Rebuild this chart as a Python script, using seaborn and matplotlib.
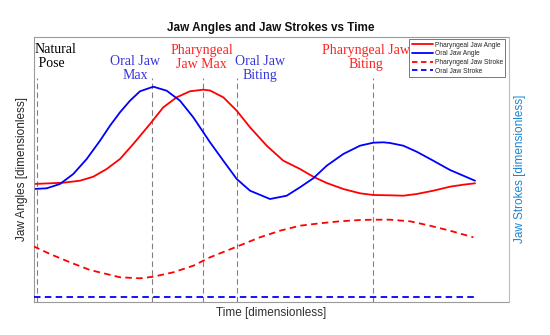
import numpy as np
import pandas as pd
import matplotlib
matplotlib.use("Agg")
import matplotlib.pyplot as plt
import seaborn as sns
from matplotlib.lines import Line2D

sns.set_style("white")
plt.rcParams['font.family'] = ['Liberation Sans', 'DejaVu Sans']

# ---- data (dimensionless) ----
pja_t = [0, 3.74, 6.75, 10.53, 13.54, 16.58, 19.59, 22.60, 26.39, 29.40, 32.43, 35.45,
         38.46, 39.98, 42.99, 46.03, 49.04, 52.82, 56.58, 60.36, 63.37, 66.41, 70.17,
         73.95, 76.96, 80.75, 83.76, 86.79, 90.55, 94.34, 97.35, 100]
pja_v = [44.42, 44.68, 44.91, 45.66, 47.17, 50.08, 53.85, 59.51, 67.06, 73.36, 77.13, 79.40,
         80.00, 79.70, 77.13, 72.08, 65.81, 58.87, 53.21, 50.08, 47.17, 44.79, 42.53,
         40.91, 40.26, 40.15, 40.00, 40.64, 41.89, 43.40, 44.15, 44.68]

oja_t = [0, 2.99, 6.00, 9.01, 12.05, 15.06, 17.33, 19.59, 21.86, 24.12, 27.13, 30.17,
         33.18, 36.19, 39.98, 42.99, 46.03, 49.04, 53.57, 57.35, 60.36, 63.37, 66.41,
         70.17, 73.95, 76.96, 79.23, 80.75, 83.76, 86.79, 90.55, 94.34, 97.35, 100]
oja_v = [42.53, 42.79, 44.42, 48.19, 53.85, 60.75, 66.42, 71.47, 75.85, 79.40, 81.13, 79.62,
         75.85, 69.58, 60.15, 53.21, 46.30, 41.89, 38.75, 40.00, 43.17, 46.57, 51.32,
         55.74, 58.87, 60.00, 60.15, 59.89, 58.87, 56.60, 53.21, 49.70, 47.55, 45.66]

pjs_t = [0, 3.74, 8.27, 12.80, 19.59, 24.12, 27.13, 31.66, 36.19, 39.98, 46.03, 51.30,
         55.83, 60.36, 64.89, 69.42, 73.95, 76.96, 80.75, 85.28, 89.81, 94.34, 99.62]
pjs_v = [20.91, 18.00, 14.87, 11.96, 9.21, 8.83, 9.43, 11.09, 13.58, 16.75, 20.75, 24.30,
         26.79, 28.68, 29.58, 30.34, 30.83, 30.94, 30.94, 30.34, 28.68, 26.79, 24.30]

ojs_t = [0, 100]
ojs_v = [1.77, 1.77]

event_t = [0.72, 26.91, 38.46, 46.16, 76.96]
event_labels = ["Natural\n Pose", "Oral Jaw\nMax", "Pharyngeal\nJaw Max",
                "Oral Jaw\nBiting", "Pharyngeal Jaw\nBiting"]
event_label_t = [0.34, 23.0, 38.1, 51.3, 75.2]
event_colors = ["black", "#3535dd", "#ff2020", "#3535dd", "#ff2020"]

series_names = ["Pharyngeal Jaw Angle", "Oral Jaw Angle",
                "Pharyngeal Jaw Stroke", "Oral Jaw Stroke"]

# ---- figure ----
W, H = 550, 335
fig = plt.figure(figsize=(5.5, 3.35), dpi=100)
ax = fig.add_axes([33.5/W, 1-301.7/H, (509-33.5)/W, (301.7-36.7)/H])
ax2 = ax.twinx()

XMAX = 107.7
for a in (ax, ax2):
    a.set_xlim(0, XMAX)
    a.set_ylim(0, 100)
    a.set_xticks([])
    a.set_yticks([])

lw = 1.3
dash = (0, (3.6, 2.4))
sns.lineplot(x=pja_t, y=pja_v, ax=ax, color="#ff0000", lw=lw, sort=False, estimator=None)
sns.lineplot(x=oja_t, y=oja_v, ax=ax, color="#0000ff", lw=lw, sort=False, estimator=None)
sns.lineplot(x=pjs_t, y=pjs_v, ax=ax2, color="#ff0000", lw=lw, sort=False, estimator=None,
             linestyle=dash)
sns.lineplot(x=ojs_t, y=ojs_v, ax=ax2, color="#0000ff", lw=lw, sort=False, estimator=None,
             linestyle=dash)

for t in event_t:
    ax.plot([t, t], [0, 84.5], color="#808080", lw=0.8, linestyle=(0, (5, 3)), zorder=1)

# first-line centre (pixels from top) of each annotation
first_line_px = [50.0, 62.3, 51.7, 62.3, 51.7]
for lab, t, c, ypx in zip(event_labels, event_label_t, event_colors, first_line_px):
    ha = "left" if t < 5 else "center"
    ax.text(t, (301.7 - (ypx - 7.5)) / 2.65, lab, color=c, ha=ha, va="top", fontsize=10,
            family="Liberation Serif", linespacing=1.1)

# spines
for s in ["left", "top", "bottom"]:
    ax.spines[s].set_color("#9a9a9a")
    ax.spines[s].set_linewidth(0.8)
ax.spines["right"].set_visible(False)
for s in ["left", "top", "bottom"]:
    ax2.spines[s].set_visible(False)
ax2.spines["right"].set_color("#9cc3e6")
ax2.spines["right"].set_linewidth(0.8)
ax.set_xlabel("")
ax.set_ylabel("")
ax2.set_ylabel("")

fig.text(271/W, 1-28.3/H, "Jaw Angles and Jaw Strokes vs Time", fontsize=8.5,
         fontweight="bold", ha="center", va="center", color="#111111")
fig.text(271/W, 1-313.3/H, "Time [dimensionless]", fontsize=8.5, color="#303030",
         ha="center", va="center")
fig.text(22.5/W, 1-169/H, "Jaw Angles [dimensionless]", fontsize=8.5, color="#262626",
         ha="center", va="center", rotation=90)
fig.text(520/W, 1-169/H, "Jaw Strokes [dimensionless]", fontsize=8.5, color="#1a86d6",
         ha="center", va="center", rotation=90)

handles = [Line2D([], [], color="#ff0000", lw=lw),
           Line2D([], [], color="#0000ff", lw=lw),
           Line2D([], [], color="#ff0000", lw=lw, linestyle=(0, (3, 2))),
           Line2D([], [], color="#0000ff", lw=lw, linestyle=(0, (3, 2)))]
leg = ax2.legend(handles, series_names, loc="upper right",
                 bbox_to_anchor=(505.3/W, 1-39.3/H), bbox_transform=fig.transFigure,
                 fontsize=4.8, frameon=True, fancybox=False, borderpad=0.35,
                 labelspacing=0.25, handlelength=3.2, handletextpad=0.3, borderaxespad=0)
leg.get_frame().set_edgecolor("#555555")
leg.get_frame().set_linewidth(0.7)

fig.savefig("out.png", dpi=100)
